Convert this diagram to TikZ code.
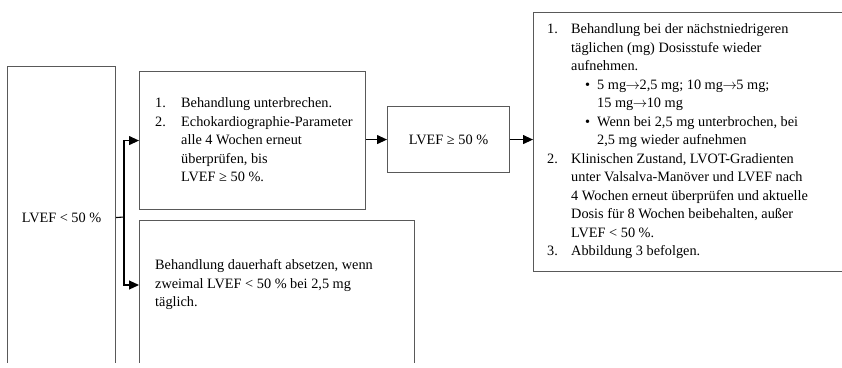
\documentclass[tikz,border=0pt]{standalone}
\usepackage{fontspec}
\setmainfont{Liberation Serif}
\usetikzlibrary{arrows.meta}
\tikzset{
  box/.style={draw=black!65, line width=1.1pt, inner sep=0pt},
  txt/.style={inner sep=0pt, align=left, font=\fontsize{14.3}{18.5}\selectfont},
  conn/.style={draw=black, line width=1.1pt},
  arr/.style={conn, -{Triangle[length=10pt,width=9pt]}},
}
\newcommand\numB[1]{\makebox[26pt][l]{#1}}
\newcommand\numE[1]{\makebox[24pt][l]{#1}}
\newcommand\ra{\kern-0.5pt$\rightarrow$\kern-0.5pt}
\begin{document}
\begin{tikzpicture}[x=1pt,y=-1pt]
\useasboundingbox (0,0) rectangle (842,367);
\begin{scope}
\clip (0,0) rectangle (842,362);
% boxes
\node[box, minimum width=108, minimum height=302, anchor=north west] (A) at (7,66) {};
\node[box, minimum width=226, minimum height=138, anchor=north west] (B) at (139,71) {};
\node[box, minimum width=275, minimum height=150, anchor=north west] (C) at (139,220) {};
\node[box, minimum width=122, minimum height=66, anchor=north west] (D) at (387,106) {};
\node[box, minimum width=320, minimum height=259, anchor=north west] (E) at (533,12) {};
% texts
\node[txt] (At) at (A.center) {LVEF < 50 \%};
\node[txt, anchor=west] (Bt) at (155,140) {\numB{1.}Behandlung unterbrechen.\\
\numB{2.}Echokardiographie-Parameter\\
\hspace*{26pt}alle 4 Wochen erneut\\
\hspace*{26pt}überprüfen, bis\\
\hspace*{26pt}LVEF ≥ 50 \%.};
\node[txt, anchor=west] (Ct) at (155,285) {Behandlung dauerhaft absetzen, wenn\\
zweimal LVEF < 50 \% bei 2,5 mg\\
täglich.};
\node[txt] (Dt) at (D.center) {LVEF ≥ 50 \%};
\node[txt, anchor=west] (Et) at (547,141.5) {\numE{1.}Behandlung bei der nächstniedrigeren\\
\hspace*{24pt}täglichen (mg) Dosisstufe wieder\\
\hspace*{24pt}aufnehmen.\\
\hspace*{38pt}\makebox[12pt][l]{•}5 mg\ra2,5 mg; 10 mg\ra5 mg;\\
\hspace*{50pt}15 mg\ra10 mg\\
\hspace*{38pt}\makebox[12pt][l]{•}Wenn bei 2,5 mg unterbrochen, bei\\
\hspace*{50pt}2,5 mg wieder aufnehmen\\
\numE{2.}Klinischen Zustand, LVOT-Gradienten\\
\hspace*{24pt}unter Valsalva-Manöver und LVEF nach\\
\hspace*{24pt}4 Wochen erneut überprüfen und aktuelle\\
\hspace*{24pt}Dosis für 8 Wochen beibehalten, außer\\
\hspace*{24pt}LVEF < 50 \%.\\
\numE{3.}Abbildung 3 befolgen.};
% connectors
\coordinate (j) at (124,217);
\draw[conn] (A.east) -- (j);
\draw[arr] (j) |- (B.west);
\draw[arr] (j) |- (C.west |- Ct.west);
\draw[arr] (B.east |- D.west) -- (D.west);
\draw[arr] (D.east) -- (D.east -| E.west);
\end{scope}
\end{tikzpicture}
\end{document}
